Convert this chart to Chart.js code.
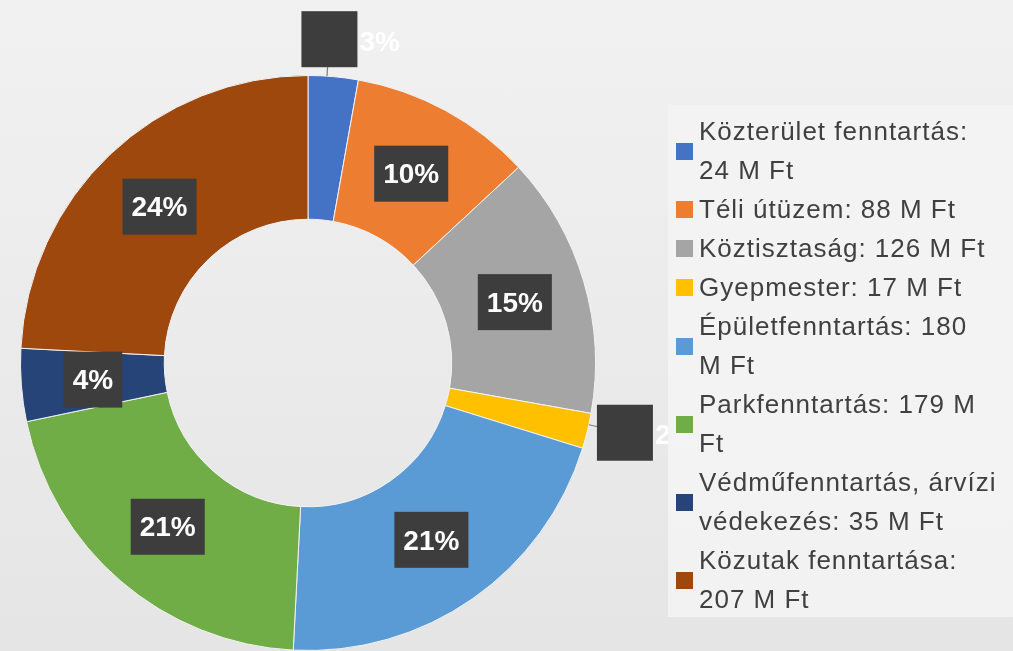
<!DOCTYPE html>
<html>
<head>
<meta charset="utf-8">
<script src="https://cdn.jsdelivr.net/npm/chart.js@4.4.1/dist/chart.umd.min.js"></script>
<style>
  html, body { margin: 0; padding: 0; }
  #wrap {
    position: relative;
    width: 1013px;
    height: 651px;
    overflow: hidden;
    background: linear-gradient(to bottom, #f1f1f1, #e5e5e5);
  }
  #chart { position: absolute; left: 0; top: 0; }
  #legend {
    position: absolute;
    left: 668px;
    top: 105px;
    width: 345px;
    height: 512px;
    background: rgba(243, 243, 243, 0.92);
    box-sizing: border-box;
    padding-top: 7px;
    font-family: "Liberation Sans", Arial, sans-serif;
    font-size: 26px;
    font-kerning: none;
    letter-spacing: 1px;
    line-height: 39px;
    color: #404040;
  }
  .item { display: flex; align-items: center; }
  .sw { width: 17px; height: 17px; margin-left: 8px; margin-right: 6px; flex: none; }
  .probe { position: absolute; visibility: hidden; white-space: nowrap; }
</style>
</head>
<body>
<div id="wrap">
  <canvas id="chart" width="1013" height="651"></canvas>
  <div id="legend"></div>
</div>
<script>
// Chart data
var categories = [
    'Közterület fenntartás',
    'Téli útüzem',
    'Köztisztaság',
    'Gyepmester',
    'Épületfenntartás',
    'Parkfenntartás',
    'Védműfenntartás, árvízi védekezés',
    'Közutak fenntartása'
];
var values = [24, 88, 126, 17, 180, 179, 35, 207]; // M Ft
var colors = ['#4472c4', '#ed7d31', '#a5a5a5', '#ffc000', '#5b9bd5', '#70ad47', '#264478', '#9e480e'];

var total = values.reduce(function (a, b) { return a + b; }, 0);

// Percentage labels in dark boxes (small slices go outside with a leader line)
var boxLabels = {
    id: 'boxLabels',
    afterDatasetsDraw: function (chart) {
        var ctx = chart.ctx;
        var meta = chart.getDatasetMeta(0);
        ctx.save();
        ctx.font = 'bold 28px "Liberation Sans", Arial, sans-serif';
        ctx.textBaseline = 'middle';
        meta.data.forEach(function (arc, i) {
            var p = arc.getProps(['x', 'y', 'startAngle', 'endAngle', 'innerRadius', 'outerRadius'], true);
            var pct = Math.round(values[i] / total * 100);
            var text = pct + '%';
            var mid = (p.startAngle + p.endAngle) / 2;
            if (pct < 4) {
                var a = mid - 0.022;
                var r = p.outerRadius + 37;
                var bx = p.x + Math.cos(a) * r;
                var by = p.y + Math.sin(a) * r;
                var ox = p.x + Math.cos(a) * p.outerRadius;
                var oy = p.y + Math.sin(a) * p.outerRadius;
                ctx.strokeStyle = '#7f7f7f';
                ctx.lineWidth = 1.2;
                ctx.beginPath();
                ctx.moveTo(ox, oy);
                ctx.lineTo(bx, by);
                ctx.stroke();
                ctx.fillStyle = '#3d3d3d';
                ctx.fillRect(bx - 28, by - 28, 56, 56);
                ctx.fillStyle = '#ffffff';
                ctx.textAlign = 'left';
                ctx.fillText(text, bx + 30, by + 4);
            } else {
                var pos = arc.tooltipPosition();
                var w = ctx.measureText(text).width + 18;
                var h = 56;
                ctx.fillStyle = '#3d3d3d';
                ctx.fillRect(pos.x - w / 2, pos.y - h / 2, w, h);
                ctx.fillStyle = '#ffffff';
                ctx.textAlign = 'center';
                ctx.fillText(text, pos.x, pos.y + 2);
            }
        });
        ctx.restore();
    }
};

var ctx = document.getElementById('chart').getContext('2d');
var donut = new Chart(ctx, {
    type: 'doughnut',
    data: {
        labels: categories,
        datasets: [{
            data: values,
            backgroundColor: colors,
            borderColor: '#f2f2f2',
            borderWidth: 1
        }]
    },
    options: {
        responsive: false,
        animation: false,
        cutout: '50%',
        layout: { padding: { left: 20, top: 75, right: 417, bottom: 0 } },
        plugins: {
            legend: { display: false },
            tooltip: { enabled: false }
        }
    },
    plugins: [boxLabels]
});

// HTML legend; wrap width taken from the widest line that fits in the original
var legend = document.getElementById('legend');
var probe = document.createElement('span');
probe.className = 'probe';
probe.textContent = 'Védműfenntartás, árvízi';
legend.appendChild(probe);
var wrapWidth = probe.getBoundingClientRect().width + 1;
legend.removeChild(probe);

categories.forEach(function (name, i) {
    var item = document.createElement('div');
    item.className = 'item';
    var sw = document.createElement('span');
    sw.className = 'sw';
    sw.style.background = colors[i];
    var txt = document.createElement('span');
    txt.style.width = wrapWidth + 'px';
    txt.textContent = name + ': ' + values[i] + ' M Ft';
    item.appendChild(sw);
    item.appendChild(txt);
    legend.appendChild(item);
});
</script>
</body>
</html>
